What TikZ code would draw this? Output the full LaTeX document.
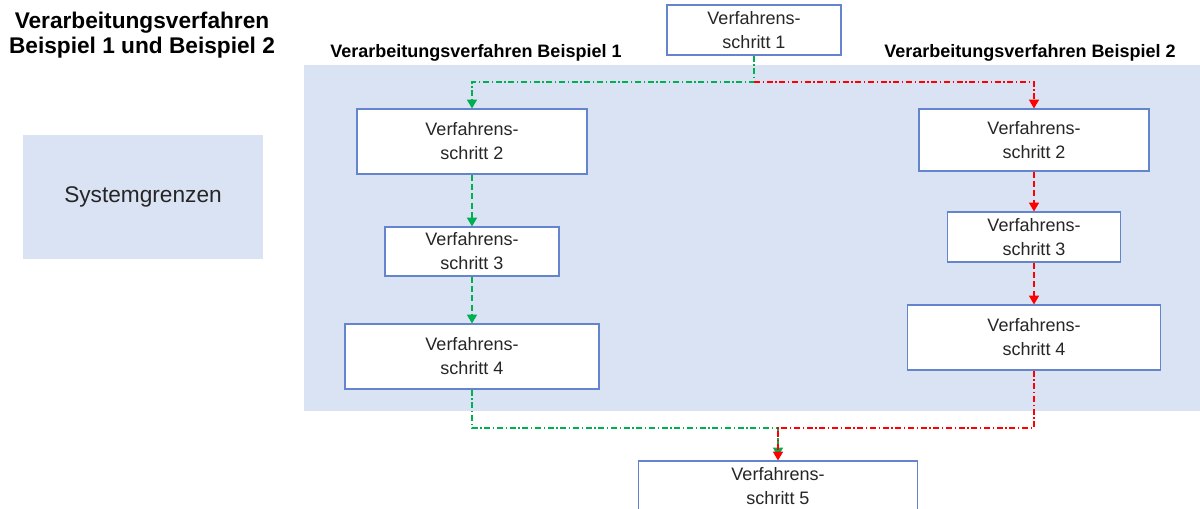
\documentclass[tikz,border=0pt]{standalone}
\usepackage{fontspec}
\setmainfont{Liberation Sans}
\usepackage{tikz}
\usetikzlibrary{positioning,arrows.meta,calc}

\definecolor{boxline}{RGB}{100,132,205}
\definecolor{areafill}{RGB}{218,227,243}
\definecolor{pathgreen}{RGB}{0,176,80}
\definecolor{pathred}{RGB}{255,0,0}
\definecolor{textgray}{RGB}{38,38,38}

\tikzset{
    stepbox/.style={draw=boxline, line width=0.9pt, fill=white, rectangle, align=center, inner sep=0pt,
        text=textgray, font=\fontsize{13.5}{18}\selectfont},
    areabox/.style={fill=areafill, draw=none},
    arealabel/.style={font=\bfseries\fontsize{13.5}{16}\selectfont, inner sep=0pt},
    dashdot/.style={line width=0.9pt, dash pattern=on 4.5pt off 2pt on 1pt off 2pt},
    dashline/.style={line width=0.9pt, dash pattern=on 4.5pt off 2.5pt},
    >={Triangle[width=7.5pt,length=6.5pt]}
}

\begin{document}
\begin{tikzpicture}[x=0.75pt, y=-0.75pt]
    \useasboundingbox (0,0) rectangle (1200,508);

    % system boundary and legend
    \fill[areabox] (304,65) rectangle (1200,411);
    \node[areabox, minimum width=180pt, minimum height=93pt] (legend) at (143,197)
        {\color{textgray}\fontsize{17}{20}\selectfont Systemgrenzen};

    \node[align=center, font=\bfseries\fontsize{17}{18.75}\selectfont, inner sep=0pt] (title) at (142,35)
        {Verarbeitungsverfahren\\ Beispiel 1 und Beispiel 2};
    \node[arealabel] (label1) at (476,53) {Verarbeitungsverfahren Beispiel 1};
    \node[arealabel] (label2) at (1030,53) {Verarbeitungsverfahren Beispiel 2};

    % steps
    \node[stepbox, minimum width=130.5pt, minimum height=37.5pt] (s1) at (754,30)
        {Verfahrens-\\ schritt 1};

    \node[stepbox, minimum width=172.5pt, minimum height=48.75pt] (l2) at (472,141.5)
        {Verfahrens-\\ schritt 2};
    \node[stepbox, minimum width=130.5pt, minimum height=36.75pt] (l3) at (472,251.5)
        {Verfahrens-\\ schritt 3};
    \node[stepbox, minimum width=190.5pt, minimum height=48.75pt] (l4) at (472,356.5)
        {Verfahrens-\\ schritt 4};

    \node[stepbox, minimum width=172.5pt, minimum height=46.5pt] (r2) at (1034,140)
        {Verfahrens-\\ schritt 2};
    \node[stepbox, minimum width=129.75pt, minimum height=37.5pt] (r3) at (1034,237)
        {Verfahrens-\\ schritt 3};
    \node[stepbox, minimum width=189.75pt, minimum height=48.75pt] (r4) at (1034,337.5)
        {Verfahrens-\\ schritt 4};

    \node[stepbox, minimum width=209.25pt, minimum height=37.5pt] (s5) at (778,486)
        {Verfahrens-\\ schritt 5};

    \coordinate (split) at (754,82);
    \coordinate (join) at (778,428);

    % example 1
    \draw[->, dashdot, pathgreen] (s1.south) -- (split) -| (l2.north);
    \draw[->, dashline, pathgreen] (l2) -- (l3);
    \draw[->, dashline, pathgreen] (l3) -- (l4);
    \draw[->, dashdot, pathgreen, shorten >=3pt] (l4.south) |- (join) -- (s5.north);

    % example 2
    \draw[->, dashdot, pathred] (split) -| (r2.north);
    \draw[->, dashline, pathred] (r2) -- (r3);
    \draw[->, dashline, pathred] (r3) -- (r4);
    \draw[->, dashdot, pathred] (r4.south) |- (join) -- (s5.north);
\end{tikzpicture}
\end{document}
